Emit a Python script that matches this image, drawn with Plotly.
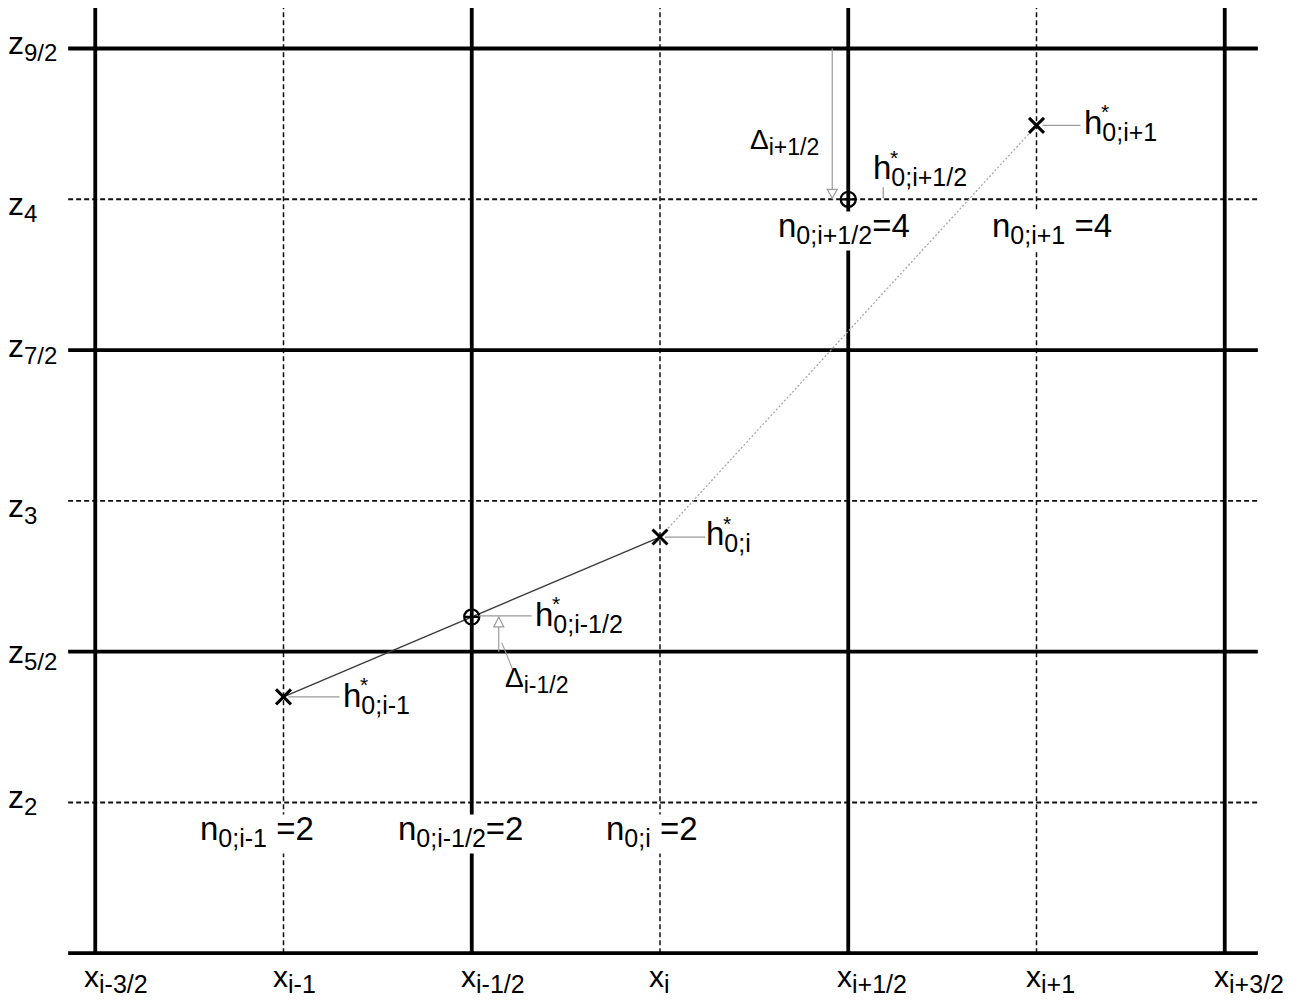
import plotly.graph_objects as go

FONT = "Liberation Sans, Arial, Helvetica, sans-serif"

# ---------------- data ----------------
x_faces = [-1.5, -0.5, 0.5, 1.5]
x_face_subs = ["i-3/2", "i-1/2", "i+1/2", "i+3/2"]
x_centers = [-1.0, 0.0, 1.0]
x_center_subs = ["i-1", "i", "i+1"]
z_faces = [2.5, 3.5, 4.5]
z_face_subs = ["5/2", "7/2", "9/2"]
z_centers = [2.0, 3.0, 4.0]
z_center_subs = ["2", "3", "4"]
z_base = 1.5

h_c_x = [-1.0, 0.0, 1.0]
h_c_z = [2.35, 2.88, 4.245]
h_c_subs = ["0;i-1", "0;i", "0;i+1"]
h_f_x = [-0.5, 0.5]
h_f_z = [2.615, 4.0]
h_f_subs = ["0;i-1/2", "0;i+1/2"]

n_x = [-1.0, -0.5, 0.0, 0.5, 1.0]
n_vals = [2, 2, 2, 4, 4]
n_subs = ["0;i-1", "0;i-1/2", "0;i", "0;i+1/2", "0;i+1"]
n_sep = [" ", "", " ", "", " "]

delta_x = [-0.5, 0.5]
delta_from = [2.5, 4.5]
delta_subs = ["i-1/2", "i+1/2"]

# ---------------- layout constants ----------------
W, H = 1303, 1002
X_RANGE = [-1.75299, 1.70784]
Z_RANGE = [1.33823, 4.66085]
X_LINE = [-1.572, 1.588]
Z_TOP = 4.634
GRAY = "#9a9a9a"
PAD_FIX = 4  # annotation box inner offset


def sub(t, size):
    return f'<sub><span style="font-size:{size}px">{t}</span></sub>'


def bottom_ext(s, ss):
    return max(0.212 * s, 0.3 * 0.7 * s + 0.212 * ss)


def base_c(s, ss):
    # distance from box centre down to the text baseline
    return (0.905 * s - bottom_ext(s, ss)) / 2.0


def label(x, z, text, dx, dyb, s, ss, bg=None, box_h=None):
    c = base_c(s, ss)
    d = dict(x=x, y=z, xref="x", yref="y", text=text, showarrow=False,
             xanchor="left", yanchor="middle", xshift=dx - PAD_FIX,
             font=dict(size=s, family=FONT, color="black"), borderpad=1)
    if box_h:
        # clipped box (empty ascent removed), text sits on the bottom
        c = box_h / 2.0 - bottom_ext(s, ss)
        d["height"] = box_h
        d["valign"] = "bottom"
    d["yshift"] = -(dyb - c)
    if bg:
        d["bgcolor"] = bg
    return d


def star(x, z, dx, dyb):
    return dict(x=x, y=z, xref="x", yref="y", text="*", showarrow=False,
                xanchor="left", yanchor="middle", xshift=dx - PAD_FIX, yshift=-(dyb - 22),
                font=dict(size=21, family=FONT, color="black"), borderpad=0)


def lines_xy(pairs_x, pairs_y):
    xs, ys = [], []
    for a, b in zip(pairs_x, pairs_y):
        xs += list(a) + [None]
        ys += list(b) + [None]
    return xs, ys


fig = go.Figure()

# dashed grid (cell centres)
vx, vy = lines_xy([(x, x) for x in x_centers], [(z_base, Z_TOP)] * len(x_centers))
fig.add_trace(go.Scatter(x=vx, y=vy, mode="lines", line=dict(color="#111", width=1.5, dash="5px,3px"),
                         hoverinfo="skip"))
hx, hy = lines_xy([tuple(X_LINE)] * len(z_centers), [(z, z) for z in z_centers])
fig.add_trace(go.Scatter(x=hx, y=hy, mode="lines", line=dict(color="#111", width=1.9, dash="5px,3px"),
                         hoverinfo="skip"))
# solid grid (cell faces)
vx, vy = lines_xy([(x, x) for x in x_faces], [(z_base, Z_TOP)] * len(x_faces))
fig.add_trace(go.Scatter(x=vx, y=vy, mode="lines", line=dict(color="black", width=3.8), hoverinfo="skip"))
zs_solid = z_faces + [z_base]
hx, hy = lines_xy([tuple(X_LINE)] * len(zs_solid), [(z, z) for z in zs_solid])
fig.add_trace(go.Scatter(x=hx, y=hy, mode="lines", line=dict(color="black", width=3.8), hoverinfo="skip"))

# free surface reconstruction
fig.add_trace(go.Scatter(x=h_c_x[:2], y=h_c_z[:2], mode="lines",
                         line=dict(color="#3a3a3a", width=1.3), hoverinfo="skip"))
fig.add_trace(go.Scatter(x=h_c_x[1:], y=h_c_z[1:], mode="lines",
                         line=dict(color="#a8a8a8", width=1.3, dash="2px,2px"), hoverinfo="skip"))

# delta arrows (shaft)
delta_dx = [27, -16]
shapes = []
for xd, z0, z1, px in zip(delta_x, delta_from, h_f_z, delta_dx):
    shapes.append(dict(type="line", xref="x", yref="y", xsizemode="pixel", xanchor=xd,
                       x0=px, x1=px, y0=z0, y1=z1, line=dict(color=GRAY, width=1.2), layer="above"))
# open arrow heads
head_paths = ["M 27,0 L 22,-10 L 32,-10 Z", "M -16,1 L -21,10 L -11,10 Z"]
for xd, zt, p in zip(delta_x, h_f_z, head_paths):
    shapes.append(dict(type="path", xref="x", yref="y", xsizemode="pixel", ysizemode="pixel",
                       xanchor=xd, yanchor=zt, path=p, fillcolor="white",
                       line=dict(color=GRAY, width=1.2), layer="above"))
# leader from Delta_{i-1/2} arrow to its label
shapes.append(dict(type="line", xref="x", yref="y", xsizemode="pixel", ysizemode="pixel",
                   xanchor=delta_x[0], yanchor=delta_from[0], x0=30, y0=9, x1=41, y1=-18,
                   line=dict(color=GRAY, width=1.1), layer="above"))

# leaders to h labels
c_lead = [(5, 56), (5, 45), (6, 44)]
for x, z, (a, b) in zip(h_c_x, h_c_z, c_lead):
    shapes.append(dict(type="line", xref="x", yref="y", xsizemode="pixel", ysizemode="pixel",
                       xanchor=x, yanchor=z, x0=a, x1=b, y0=0, y1=0,
                       line=dict(color=GRAY, width=1.3), layer="above"))
shapes.append(dict(type="line", xref="x", yref="y", xsizemode="pixel", ysizemode="pixel",
                   xanchor=h_f_x[0], yanchor=h_f_z[0], x0=7, x1=60, y0=1, y1=1,
                   line=dict(color=GRAY, width=1.3), layer="above"))
shapes.append(dict(type="line", xref="x", yref="y", xsizemode="pixel", ysizemode="pixel",
                   xanchor=h_f_x[1], yanchor=h_f_z[1], x0=35, x1=35, y0=1, y1=12,
                   line=dict(color=GRAY, width=1.3), layer="above"))

# markers
fig.add_trace(go.Scatter(x=h_c_x, y=h_c_z, mode="markers",
                         marker=dict(symbol="x-thin", size=15, color="black",
                                     line=dict(color="black", width=3)), hoverinfo="skip"))
fig.add_trace(go.Scatter(x=h_f_x, y=h_f_z, mode="markers",
                         marker=dict(symbol="circle-cross-open", size=15, color="black",
                                     line=dict(color="black", width=2.3)), hoverinfo="skip"))

# ---------------- annotations ----------------
ann = []
# x axis labels
for x, s in zip(x_faces + x_centers, x_face_subs + x_center_subs):
    ann.append(label(x, z_base, "x" + sub(s, 25), -9, 34, 30, 25))
# z labels
z_dyb = [11, 7, 6, 6, 16, 16]
for z, s, d in zip(z_faces + z_centers, z_face_subs + z_center_subs, z_dyb):
    ann.append(label(x_faces[0], z, "z" + sub(s, 24), -85, d, 32, 24))
# h labels
hc_off = [(61, 10), (48, 8), (49, 8)]
for x, z, s, (dx, dy) in zip(h_c_x, h_c_z, h_c_subs, hc_off):
    ann.append(label(x, z, "h" + sub(s, 25), dx, dy, 33, 25))
    ann.append(star(x, z, dx + 18, dy))
hf_off = [(65, 9), (27, -20)]
for x, z, s, (dx, dy) in zip(h_f_x, h_f_z, h_f_subs, hf_off):
    ann.append(label(x, z, "h" + sub(s, 25), dx, dy, 33, 25))
    ann.append(star(x, z, dx + 18, dy))
# n labels (white box breaks the grid lines behind them)
n_dx = [-82, -72, -52, -68, -43]
for x, v, s, sp, dx in zip(n_x, n_vals, n_subs, n_sep, n_dx):
    ann.append(label(x, v, "n" + sub(s, 25) + sp + "=" + str(v), dx, 37, 33, 25,
                     bg="white", box_h=36))
# delta labels
d_off = [(35, 70), (-96, -50)]
for x, z, s, (dx, dy) in zip(delta_x, h_f_z, delta_subs, d_off):
    ann.append(label(x, z, "\u0394" + sub(s, 23), dx, dy, 28, 23))

fig.update_layout(
    width=W, height=H,
    margin=dict(l=0, r=0, t=0, b=0),
    paper_bgcolor="white", plot_bgcolor="white",
    showlegend=False,
    xaxis=dict(range=X_RANGE, visible=False, fixedrange=True),
    yaxis=dict(range=Z_RANGE, visible=False, fixedrange=True),
    shapes=shapes,
    annotations=ann,
)

fig.write_html(
    "out.html",
    config={"displayModeBar": False},
    post_script="document.body.style.margin='0';document.body.style.overflow='hidden';",
)
